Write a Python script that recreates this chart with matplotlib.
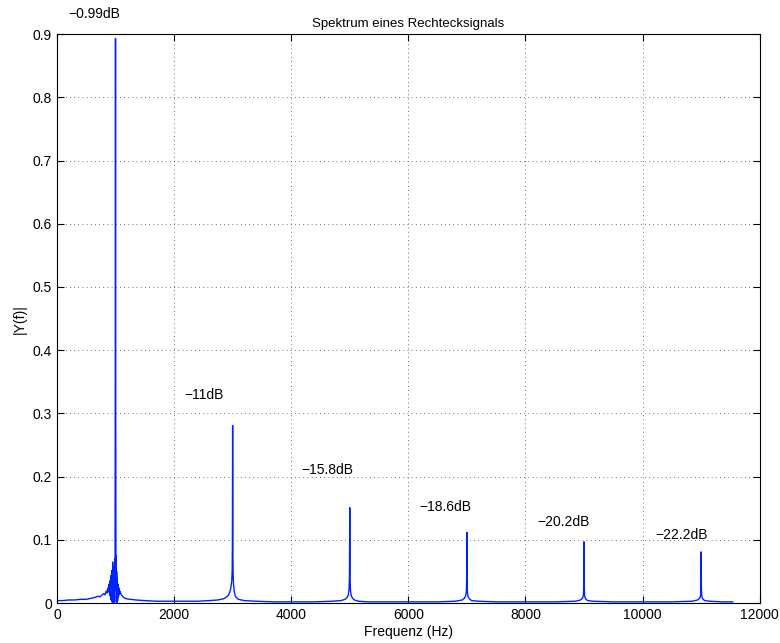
import matplotlib
matplotlib.use("Agg")
import matplotlib.pyplot as plt

plt.rcParams['font.family'] = ['Liberation Sans', 'DejaVu Sans']

# Spectrum samples, one segment per harmonic
seg1_f = [0, 100, 200, 300, 400, 500, 600, 650, 700, 740, 770, 800, 820, 840, 855,
          870, 880, 890, 900, 910, 918, 925, 932, 940, 946, 952, 958, 964, 970, 976,
          982, 988, 992, 996, 1000, 1004, 1008, 1012, 1016, 1020, 1025, 1030, 1036,
          1042, 1050, 1058, 1066, 1076, 1090, 1110, 1140, 1180, 1250, 1350, 1500,
          1700, 1900]
seg1_a = [0.004, 0.004, 0.005, 0.005, 0.006, 0.006, 0.008, 0.009, 0.011, 0.010, 0.013,
          0.015, 0.013, 0.019, 0.016, 0.024, 0.018, 0.030, 0.012, 0.036, 0.006, 0.044,
          0.004, 0.052, 0.001, 0.065, 0.003, 0.058, 0.001, 0.045, 0.002, 0.070, 0.020,
          0.350, 0.893, 0.300, 0.030, 0.075, 0.002, 0.050, 0.001, 0.040, 0.004, 0.030,
          0.010, 0.024, 0.014, 0.019, 0.015, 0.012, 0.009, 0.007, 0.006, 0.005, 0.004,
          0.003, 0.003]

seg3_f = [2100, 2400, 2600, 2750, 2850, 2900, 2930, 2950, 2965, 2975, 2985, 2992,
          2996, 3000, 3004, 3008, 3015, 3025, 3040, 3060, 3100, 3200, 3400, 3700]
seg3_a = [0.003, 0.003, 0.004, 0.005, 0.007, 0.010, 0.013, 0.017, 0.022, 0.028,
          0.035, 0.050, 0.090, 0.281, 0.080, 0.048, 0.030, 0.020, 0.013, 0.009,
          0.006, 0.004, 0.003, 0.002]

seg5_f = [4000, 4400, 4700, 4850, 4920, 4955, 4975, 4988, 4995, 5000, 5005, 5012,
          5025, 5045, 5080, 5150, 5300, 5600]
seg5_a = [0.002, 0.002, 0.003, 0.004, 0.006, 0.009, 0.013, 0.022, 0.045, 0.151,
          0.040, 0.020, 0.012, 0.008, 0.005, 0.003, 0.002, 0.002]

seg7_f = [6000, 6500, 6800, 6920, 6960, 6980, 6990, 6996, 7000, 7004, 7010, 7020,
          7040, 7080, 7200, 7500]
seg7_a = [0.002, 0.002, 0.003, 0.005, 0.008, 0.012, 0.018, 0.035, 0.112, 0.030,
          0.016, 0.010, 0.007, 0.004, 0.003, 0.002]

seg9_f = [8000, 8500, 8850, 8940, 8975, 8990, 8996, 9000, 9004, 9010, 9025, 9060,
          9150, 9500]
seg9_a = [0.002, 0.002, 0.003, 0.005, 0.008, 0.013, 0.030, 0.097, 0.026, 0.012,
          0.007, 0.004, 0.003, 0.002]

seg11_f = [10000, 10500, 10850, 10940, 10975, 10990, 10996, 11000, 11004, 11010,
           11025, 11060, 11150, 11350, 11540]
seg11_a = [0.002, 0.002, 0.003, 0.005, 0.008, 0.012, 0.028, 0.081, 0.024, 0.011,
           0.007, 0.004, 0.003, 0.002, 0.002]

freqs = seg1_f + seg3_f + seg5_f + seg7_f + seg9_f + seg11_f
amps = seg1_a + seg3_a + seg5_a + seg7_a + seg9_a + seg11_a

# Annotations (dB of each harmonic)
db_labels = ['\u22120.99dB', '\u221211dB', '\u221215.8dB', '\u221218.6dB',
             '\u221220.2dB', '\u221222.2dB']
label_x = [190, 2170, 4180, 6180, 8195, 10210]
label_y = [0.932, 0.329, 0.210, 0.152, 0.128, 0.108]

fig = plt.figure(figsize=(7.8, 6.43), dpi=100)
ax = fig.add_axes([0.073, 0.062, 0.901, 0.885])

ax.plot(freqs, amps, color='#0022ff', linewidth=1.0)

for txt, lx, ly in zip(db_labels, label_x, label_y):
    ax.text(lx, ly, txt, ha='left', va='center', fontsize=10, clip_on=False)

ax.set_xlim(0, 12000)
ax.set_ylim(0, 0.9)
ax.set_xticks(range(0, 12001, 2000))
ax.set_yticks([i / 10 for i in range(10)])
ax.set_yticklabels(['0', '0.1', '0.2', '0.3', '0.4', '0.5', '0.6', '0.7', '0.8', '0.9'])
ax.grid(True, linestyle=(0, (1, 4)), color='#444444', linewidth=0.6)
ax.tick_params(direction='in', labelsize=10, length=5, top=True, right=True)
ax.set_xlabel('Frequenz (Hz)', fontsize=10, labelpad=2)
ax.set_ylabel('|Y(f)|', fontsize=10, labelpad=4)
ax.set_title('Spektrum eines Rechtecksignals', fontsize=9.5, pad=5)

fig.savefig('out.png', dpi=100)
